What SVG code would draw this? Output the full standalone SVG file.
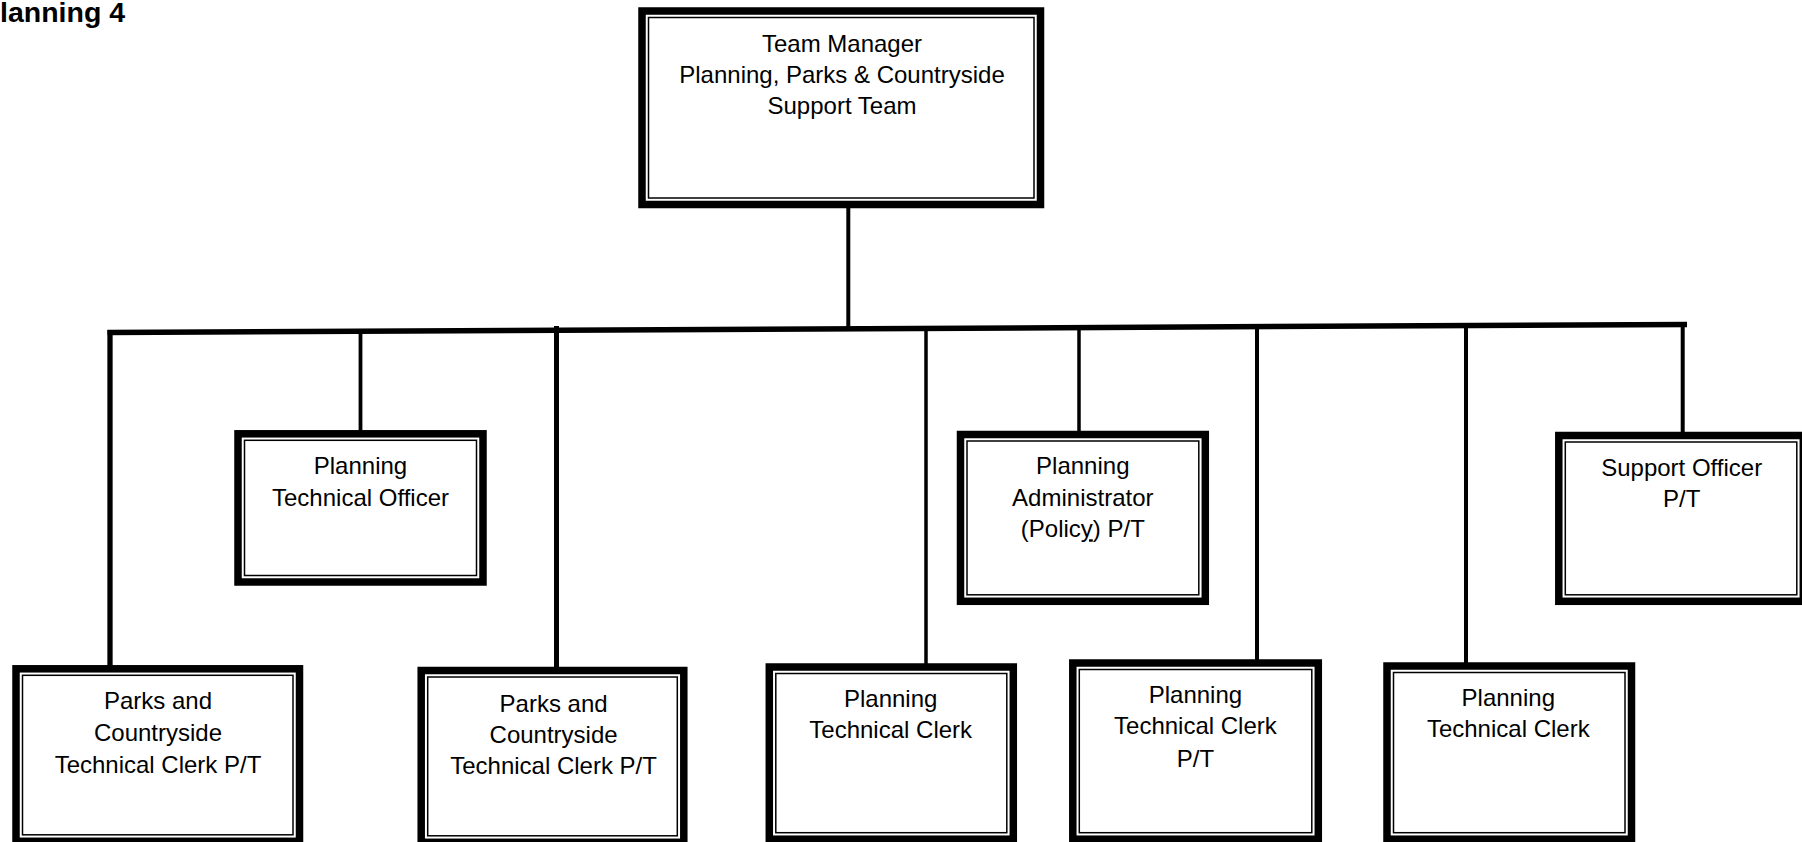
<svg xmlns="http://www.w3.org/2000/svg" width="1802" height="842" viewBox="0 0 1802 842">
<style>
.thick{fill:#fff;stroke:#000;stroke-width:7.5}
.thin{fill:none;stroke:#000;stroke-width:1.5}
.lbl{font-family:"Liberation Sans",Arial,sans-serif;font-size:24px;text-anchor:middle;fill:#000}
.title{font-family:"Liberation Sans",Arial,sans-serif;font-size:28.5px;font-weight:bold;fill:#000}
.c{stroke:#000;fill:none;stroke-linecap:butt}
</style>
<rect x="0" y="0" width="1802" height="842" fill="#fff"/>
<text id="title" class="title" x="0" y="22">lanning 4</text>
<g id="connectors">
<line class="c" x1="848.3" y1="205" x2="848.3" y2="329" stroke-width="4"/>
<line class="c" x1="107.5" y1="332.5" x2="1687" y2="324.5" stroke-width="5.5"/>
<line class="c" x1="110" y1="330" x2="110" y2="667" stroke-width="5.3"/>
<line class="c" x1="360.5" y1="331" x2="360.5" y2="432" stroke-width="3.8"/>
<line class="c" x1="556.5" y1="326" x2="556.5" y2="669" stroke-width="5"/>
<line class="c" x1="926" y1="328" x2="926" y2="665" stroke-width="3.5"/>
<line class="c" x1="1079" y1="327" x2="1079" y2="432" stroke-width="3.5"/>
<line class="c" x1="1257" y1="326.5" x2="1257" y2="661" stroke-width="4"/>
<line class="c" x1="1466" y1="325.5" x2="1466" y2="664" stroke-width="4"/>
<line class="c" x1="1682.7" y1="324.5" x2="1682.7" y2="433" stroke-width="4"/>
</g>
<g id="team-manager">
<rect class="thick" x="642" y="11" width="398.5" height="193.5"/>
<rect class="thin" x="648.5" y="17.5" width="385.5" height="180.5"/>
<text class="lbl" x="842" y="52">Team Manager</text>
<text class="lbl" x="842" y="83">Planning, Parks &amp; Countryside</text>
<text class="lbl" x="842" y="114">Support Team</text>
</g>
<g id="planning-technical-officer">
<rect class="thick" x="238" y="433.8" width="245" height="148.2"/>
<rect class="thin" x="244.5" y="440.3" width="232" height="135.2"/>
<text class="lbl" x="360.5" y="474">Planning</text>
<text class="lbl" x="360.5" y="505.7">Technical Officer</text>
</g>
<g id="planning-administrator">
<rect class="thick" x="960.5" y="434.5" width="244.8" height="166.8"/>
<rect class="thin" x="967" y="441" width="231.8" height="153.8"/>
<text class="lbl" x="1082.8" y="474">Planning</text>
<text class="lbl" x="1082.8" y="505.7">Administrator</text>
<text class="lbl" x="1082.8" y="537.3">(Polic<tspan text-decoration="underline">y</tspan>) P/T</text>
</g>
<g id="support-officer">
<rect class="thick" x="1558.8" y="435.5" width="244.5" height="165.8"/>
<rect class="thin" x="1565.3" y="442" width="231.5" height="152.8"/>
<text class="lbl" x="1681.7" y="476">Support Officer</text>
<text class="lbl" x="1681.7" y="507">P/T</text>
</g>
<g id="parks-clerk-1">
<rect class="thick" x="16" y="668.8" width="283.5" height="172.5"/>
<rect class="thin" x="22.5" y="675.3" width="270.5" height="159.5"/>
<text class="lbl" x="158" y="709">Parks and</text>
<text class="lbl" x="158" y="740.7">Countryside</text>
<text class="lbl" x="158" y="772.5">Technical Clerk P/T</text>
</g>
<g id="parks-clerk-2">
<rect class="thick" x="421.2" y="670.5" width="262.6" height="171.8"/>
<rect class="thin" x="427.7" y="677" width="249.6" height="158.8"/>
<text class="lbl" x="553.6" y="711.7">Parks and</text>
<text class="lbl" x="553.6" y="742.5">Countryside</text>
<text class="lbl" x="553.6" y="773.5">Technical Clerk P/T</text>
</g>
<g id="planning-clerk-1">
<rect class="thick" x="769.3" y="667" width="244" height="172.2"/>
<rect class="thin" x="775.8" y="673.5" width="231" height="159.2"/>
<text class="lbl" x="890.7" y="706.7">Planning</text>
<text class="lbl" x="890.7" y="738">Technical Clerk</text>
</g>
<g id="planning-clerk-pt">
<rect class="thick" x="1072.8" y="663" width="245.5" height="176.2"/>
<rect class="thin" x="1079.3" y="669.5" width="232.5" height="163.2"/>
<text class="lbl" x="1195.4" y="703.3">Planning</text>
<text class="lbl" x="1195.4" y="734.3">Technical Clerk</text>
<text class="lbl" x="1195.4" y="766.7">P/T</text>
</g>
<g id="planning-clerk-3">
<rect class="thick" x="1387" y="666" width="244.5" height="173.2"/>
<rect class="thin" x="1393.5" y="672.5" width="231.5" height="160.2"/>
<text class="lbl" x="1508.3" y="706">Planning</text>
<text class="lbl" x="1508.3" y="737.3">Technical Clerk</text>
</g>
</svg>
